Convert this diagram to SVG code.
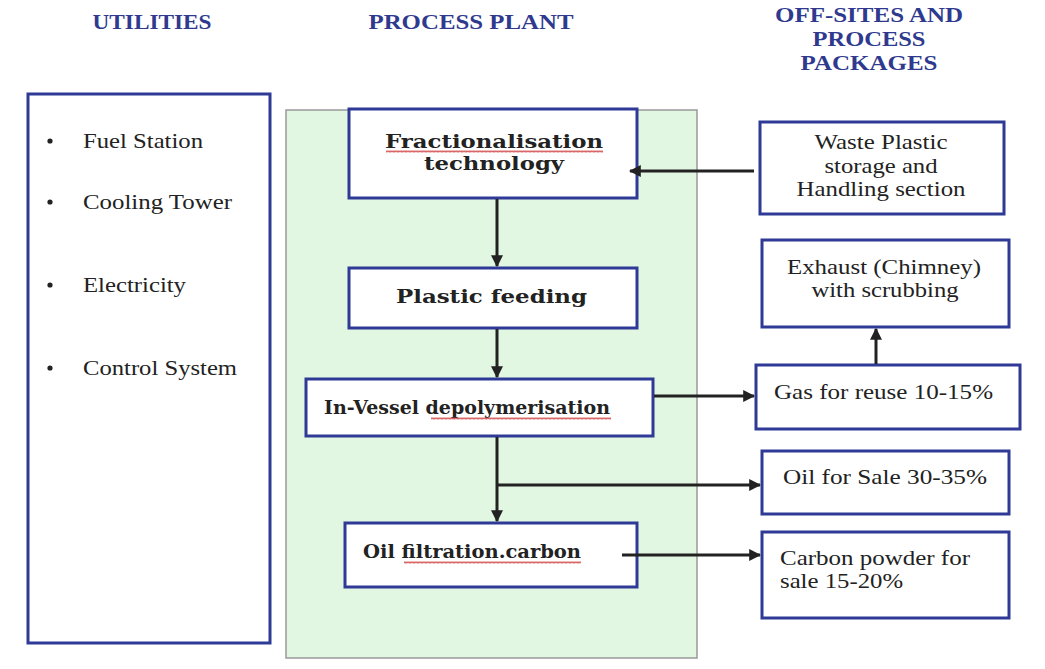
<svg xmlns="http://www.w3.org/2000/svg" width="1045" height="669" viewBox="0 0 1045 669">
<style>
.hd{font-family:"Liberation Serif",serif;font-weight:bold;font-size:22px;fill:#2f3a8f;text-anchor:middle}
.box{fill:#fff;stroke:#2e3a96;stroke-width:3}
.bt{font-family:"DejaVu Serif",serif;font-weight:bold;font-size:19px;fill:#222}
.rt{font-family:"Liberation Serif",serif;font-size:21px;fill:#222}
.mid{text-anchor:middle}
.con{stroke:#222;stroke-width:3;fill:none}
</style>
<defs>
<marker id="ah" viewBox="0 0 10 10" refX="9" refY="5" markerWidth="4" markerHeight="4" orient="auto" markerUnits="strokeWidth">
<path d="M0,0 L10,5 L0,10 z" fill="#222"/>
</marker>
<pattern id="sq" width="4" height="3" patternUnits="userSpaceOnUse">
<path d="M0,2.5 L1,0.5 L2,2.5 L3,0.5 L4,2.5" stroke="#d04040" stroke-width="0.8" fill="none"/>
</pattern>
</defs>
<rect width="1045" height="669" fill="#fff"/>
<g id="headings">
<text class="hd" x="152" y="29" textLength="119" lengthAdjust="spacingAndGlyphs">UTILITIES</text>
<text class="hd" x="471" y="29" textLength="205" lengthAdjust="spacingAndGlyphs">PROCESS PLANT</text>
<text class="hd" x="869" y="22" textLength="188" lengthAdjust="spacingAndGlyphs">OFF-SITES AND</text>
<text class="hd" x="869" y="46" textLength="113" lengthAdjust="spacingAndGlyphs">PROCESS</text>
<text class="hd" x="869" y="70" textLength="137" lengthAdjust="spacingAndGlyphs">PACKAGES</text>
</g>
<g id="utilities">
<rect class="box" x="28" y="94" width="242" height="549"/>
<g fill="#222">
<circle cx="50" cy="141" r="2.6"/>
<circle cx="50" cy="202" r="2.6"/>
<circle cx="50" cy="285" r="2.6"/>
<circle cx="50" cy="368" r="2.6"/>
</g>
<text class="rt" x="83" y="148" textLength="120" lengthAdjust="spacingAndGlyphs">Fuel Station</text>
<text class="rt" x="83" y="209" textLength="149" lengthAdjust="spacingAndGlyphs">Cooling Tower</text>
<text class="rt" x="83" y="292" textLength="103" lengthAdjust="spacingAndGlyphs">Electricity</text>
<text class="rt" x="83" y="375" textLength="154" lengthAdjust="spacingAndGlyphs">Control System</text>
</g>
<g id="process-plant">
<rect x="286" y="110" width="411" height="548" fill="#e2f7e2" stroke="#999" stroke-width="1.5"/>
</g>
<g id="fractionalisation">
<rect class="box" x="349" y="109" width="288" height="89"/>
<text class="bt mid" x="494" y="148" textLength="218" lengthAdjust="spacingAndGlyphs">Fractionalisation</text>
<text class="bt mid" x="494" y="170" textLength="140" lengthAdjust="spacingAndGlyphs">technology</text>
<rect x="386" y="150" width="217" height="3" fill="url(#sq)"/>
</g>
<g id="plastic-feeding">
<rect class="box" x="349" y="268" width="288" height="60"/>
<text class="bt" x="396" y="303" textLength="191" lengthAdjust="spacingAndGlyphs">Plastic  feeding</text>
</g>
<g id="in-vessel">
<rect class="box" x="306" y="379" width="347" height="57"/>
<text class="bt" x="324" y="414" textLength="286" lengthAdjust="spacingAndGlyphs">In-Vessel  depolymerisation</text>
<rect x="431" y="417" width="180" height="3" fill="url(#sq)"/>
</g>
<g id="oil-filtration">
<rect class="box" x="345" y="523" width="292" height="64"/>
<text class="bt" x="363" y="558" textLength="218" lengthAdjust="spacingAndGlyphs">Oil filtration.carbon</text>
<rect x="404" y="561" width="177" height="3" fill="url(#sq)"/>
</g>
<g id="waste-plastic">
<rect class="box" x="760" y="122" width="244" height="92"/>
<text class="rt mid" x="881" y="149" textLength="133" lengthAdjust="spacingAndGlyphs">Waste Plastic</text>
<text class="rt mid" x="881" y="173" textLength="113" lengthAdjust="spacingAndGlyphs">storage and</text>
<text class="rt mid" x="881" y="196" textLength="169" lengthAdjust="spacingAndGlyphs">Handling section</text>
</g>
<g id="exhaust">
<rect class="box" x="762" y="240" width="247" height="87"/>
<text class="rt mid" x="884" y="274" textLength="194" lengthAdjust="spacingAndGlyphs">Exhaust (Chimney)</text>
<text class="rt mid" x="885" y="297" textLength="147" lengthAdjust="spacingAndGlyphs">with scrubbing</text>
</g>
<g id="gas">
<rect class="box" x="756" y="365" width="264" height="64"/>
<text class="rt" x="774" y="399" textLength="219" lengthAdjust="spacingAndGlyphs">Gas for reuse  10-15%</text>
</g>
<g id="oil-sale">
<rect class="box" x="762" y="451" width="247" height="63"/>
<text class="rt" x="783" y="484" textLength="204" lengthAdjust="spacingAndGlyphs">Oil for Sale 30-35%</text>
</g>
<g id="carbon-powder">
<rect class="box" x="762" y="532" width="247" height="86"/>
<text class="rt" x="780" y="565" textLength="190" lengthAdjust="spacingAndGlyphs">Carbon powder for</text>
<text class="rt" x="780" y="588" textLength="123" lengthAdjust="spacingAndGlyphs">sale 15-20%</text>
</g>
<g id="connectors">
<line class="con" x1="754" y1="171" x2="630" y2="171" marker-end="url(#ah)"/>
<line class="con" x1="497" y1="199" x2="497" y2="266" marker-end="url(#ah)"/>
<line class="con" x1="497" y1="329" x2="497" y2="377" marker-end="url(#ah)"/>
<line class="con" x1="497" y1="437" x2="497" y2="521" marker-end="url(#ah)"/>
<line class="con" x1="497" y1="485" x2="760" y2="485" marker-end="url(#ah)"/>
<line class="con" x1="654" y1="396" x2="754" y2="396" marker-end="url(#ah)"/>
<line class="con" x1="876" y1="364" x2="876" y2="329" marker-end="url(#ah)"/>
<line class="con" x1="622" y1="555" x2="760" y2="555" marker-end="url(#ah)"/>
</g>
</svg>
